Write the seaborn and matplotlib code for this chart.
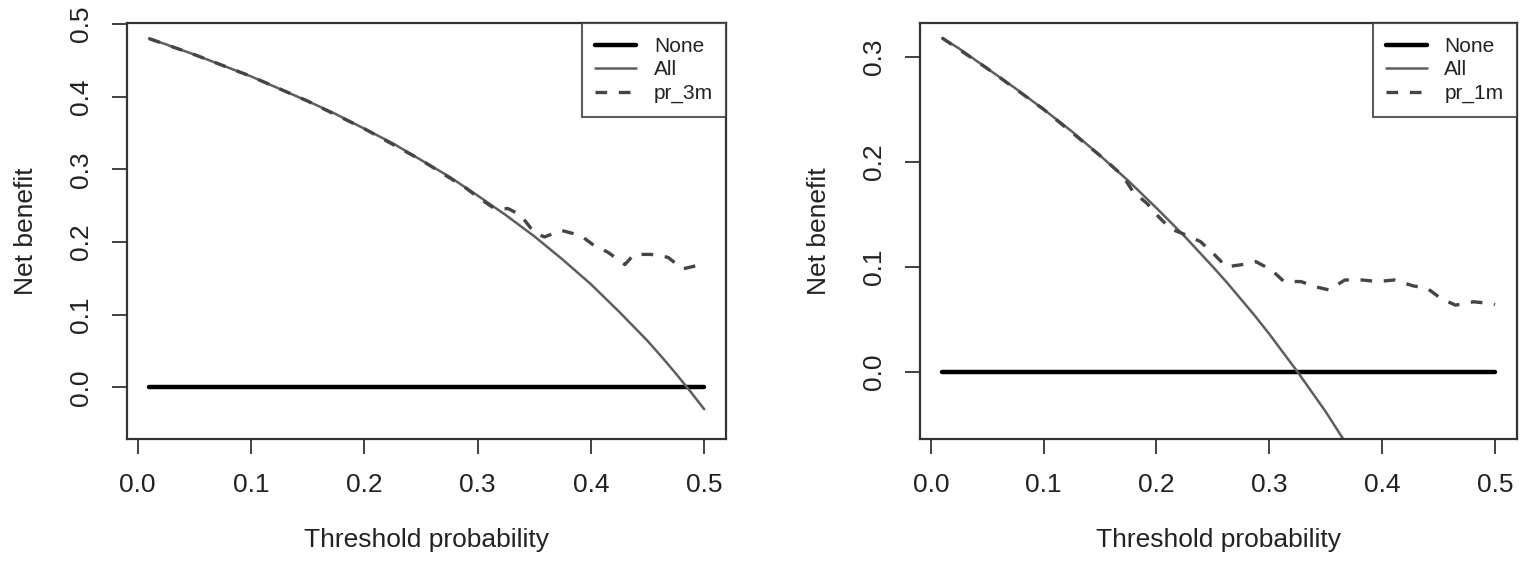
import numpy as np
import pandas as pd
import matplotlib
matplotlib.use("Agg")
import matplotlib.pyplot as plt
import seaborn as sns

# ── data ──────────────────────────────────────────────────────────────────────
LEFT_ALL_X = [0.01, 0.025, 0.05, 0.075, 0.10, 0.125, 0.15, 0.175, 0.20, 0.225, 0.25,
              0.275, 0.30, 0.325, 0.35, 0.3625, 0.375, 0.3875, 0.40, 0.4125, 0.425,
              0.4375, 0.45, 0.4625, 0.475, 0.4875, 0.50]
LEFT_ALL_Y = [0.480, 0.472, 0.458, 0.443, 0.428, 0.411, 0.394, 0.376, 0.356, 0.336, 0.313,
              0.290, 0.264, 0.237, 0.208, 0.192, 0.176, 0.159, 0.142, 0.123, 0.104,
              0.084, 0.064, 0.042, 0.019, -0.005, -0.030]

LEFT_MODEL_X = [0.01, 0.05, 0.10, 0.15, 0.20, 0.25, 0.29, 0.30, 0.315, 0.327, 0.338, 0.35,
                0.359, 0.374, 0.391, 0.403, 0.415, 0.43, 0.438, 0.453, 0.468, 0.481, 0.497, 0.50]
LEFT_MODEL_Y = [0.480, 0.458, 0.428, 0.394, 0.356, 0.313, 0.274, 0.262, 0.246, 0.246, 0.237, 0.213,
                0.207, 0.216, 0.209, 0.195, 0.186, 0.169, 0.183, 0.183, 0.179, 0.163, 0.169, 0.170]

RIGHT_ALL_X = [0.01, 0.025, 0.05, 0.075, 0.10, 0.125, 0.15, 0.175, 0.20, 0.225, 0.25,
               0.2625, 0.275, 0.2875, 0.30, 0.3125, 0.325, 0.3375, 0.35, 0.3625, 0.375]
RIGHT_ALL_Y = [0.318, 0.308, 0.289, 0.270, 0.250, 0.229, 0.206, 0.182, 0.156, 0.129, 0.100,
               0.085, 0.069, 0.053, 0.036, 0.018, 0.000, -0.019, -0.038, -0.059, -0.080]

RIGHT_MODEL_X = [0.01, 0.05, 0.10, 0.15, 0.17, 0.179, 0.192, 0.2025, 0.213, 0.227, 0.239, 0.251,
                 0.262, 0.275, 0.288, 0.302, 0.313, 0.328, 0.341, 0.353, 0.367, 0.382, 0.396,
                 0.411, 0.427, 0.440, 0.452, 0.465, 0.481, 0.497, 0.50]
RIGHT_MODEL_Y = [0.318, 0.289, 0.250, 0.206, 0.187, 0.172, 0.160, 0.147, 0.136, 0.130, 0.124, 0.112,
                 0.100, 0.102, 0.105, 0.097, 0.086, 0.086, 0.081, 0.078, 0.0875, 0.0875, 0.086,
                 0.0875, 0.082, 0.0795, 0.070, 0.0635, 0.0667, 0.065, 0.064]

NONE_X = [0.01, 0.50]
NONE_Y = [0.0, 0.0]

PANELS = [
    dict(name="pr_3m", all_x=LEFT_ALL_X, all_y=LEFT_ALL_Y,
         mod_x=LEFT_MODEL_X, mod_y=LEFT_MODEL_Y,
         ylim=(-0.071, 0.501), yticks=[0.0, 0.1, 0.2, 0.3, 0.4, 0.5]),
    dict(name="pr_1m", all_x=RIGHT_ALL_X, all_y=RIGHT_ALL_Y,
         mod_x=RIGHT_MODEL_X, mod_y=RIGHT_MODEL_Y,
         ylim=(-0.064, 0.332), yticks=[0.0, 0.1, 0.2, 0.3]),
]
XTICKS = [0.0, 0.1, 0.2, 0.3, 0.4, 0.5]

# ── style ─────────────────────────────────────────────────────────────────────
sns.set_theme(style="white")
plt.rcParams["font.family"] = ["Liberation Sans", "DejaVu Sans"]

AXIS_COL = "#333333"
fig = plt.figure(figsize=(15.29, 5.75), dpi=100)
axes = [fig.add_axes([0.0829, 0.2365, 0.3922, 0.7230]),
        fig.add_axes([0.6017, 0.2365, 0.3905, 0.7230])]

for ax, p in zip(axes, PANELS):
    sns.lineplot(x=NONE_X, y=NONE_Y, ax=ax, color="black", linewidth=3.2,
                 label="None", estimator=None, sort=False)
    sns.lineplot(x=p["all_x"], y=p["all_y"], ax=ax, color="#5e5e5e", linewidth=1.8,
                 label="All", estimator=None, sort=False)
    sns.lineplot(x=p["mod_x"], y=p["mod_y"], ax=ax, color="#454545", linewidth=2.4,
                 linestyle=(0, (3.5, 3.5)), label=p["name"], estimator=None, sort=False)

    ax.set_xlim(-0.0096, 0.5196)
    ax.set_ylim(*p["ylim"])
    ax.set_xticks(XTICKS)
    ax.set_xticklabels([f"{t:.1f}" for t in XTICKS])
    ax.set_yticks(p["yticks"])
    ax.set_yticklabels([f"{t:.1f}" for t in p["yticks"]], rotation=90, va="center")

    for s in ax.spines.values():
        s.set_visible(True)
        s.set_color(AXIS_COL)
        s.set_linewidth(1.6)
    ax.tick_params(axis="both", direction="out", length=10.5, width=1.3,
                   color=AXIS_COL, labelsize=19, labelcolor="#222222", pad=14,
                   bottom=True, left=True)
    ax.set_xlabel("Threshold probability", fontsize=19, color="#222222", labelpad=22)
    ax.set_ylabel("Net benefit", fontsize=19, color="#222222", labelpad=22)

    leg = ax.legend(loc="upper right", bbox_to_anchor=(1.0, 1.0), borderaxespad=0,
                    fontsize=15, frameon=True, fancybox=False, edgecolor=AXIS_COL,
                    handlelength=1.95, handletextpad=0.85, labelspacing=0.22,
                    borderpad=0.65)
    leg.get_frame().set_linewidth(1.5)
    for t in leg.get_texts():
        t.set_color("#222222")

fig.savefig("out.png", dpi=100)
